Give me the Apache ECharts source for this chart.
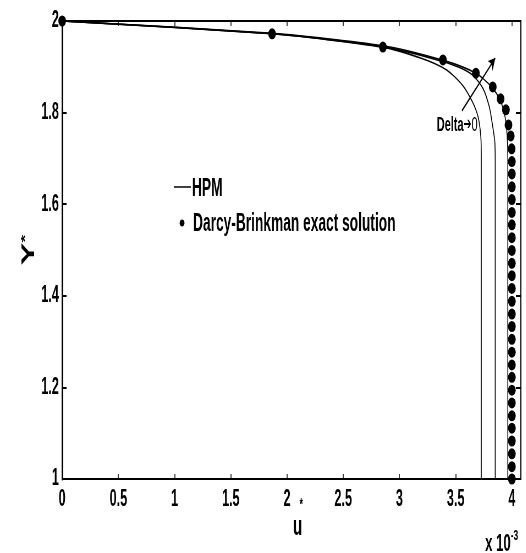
<!DOCTYPE html>
<html>
<head>
<meta charset="utf-8">
<script src="https://cdn.jsdelivr.net/npm/echarts@6/dist/echarts.min.js"></script>
<style>
  html, body { margin: 0; padding: 0; overflow: hidden; background: #fff; }
  /* the original picture is squeezed horizontally, so draw wide and squeeze */
  #chart { width: 956px; height: 553px; transform: scaleX(0.55); transform-origin: 0 0; }
</style>
</head>
<body>
<div id="chart"></div>
<script>
// HPM curves, one per Delta value: [u* (x10^-3), Y*]
var hpmA = [[0, 2], [1.87, 1.972], [2.85, 1.943], [3.2, 1.918], [3.42, 1.893], [3.56, 1.86],
            [3.65, 1.823], [3.70, 1.79], [3.724, 1.747], [3.728, 1.70], [3.728, 1]];
var hpmB = [[0, 2], [1.87, 1.972], [2.85, 1.944], [3.39, 1.911], [3.63, 1.886], [3.74, 1.854],
            [3.80, 1.812], [3.83, 1.769], [3.849, 1.734], [3.852, 1.68], [3.852, 1]];
var hpmC = [[0, 2], [1.87, 1.973], [2.85, 1.946], [3.39, 1.914], [3.68, 1.886], [3.82, 1.856],
            [3.90, 1.825], [3.94, 1.79], [3.958, 1.75], [3.964, 1.70], [3.964, 1]];

// Darcy-Brinkman exact solution (markers)
var exactU = [0, 1.867, 2.853, 3.387, 3.68, 3.83, 3.90, 3.947, 3.97, 3.99,
              3.998, 4, 4, 4, 4, 4, 4, 4, 4, 4, 4, 4, 4, 4, 4, 4, 4, 4, 4, 4, 4, 4, 4, 4, 4, 4, 4];
var exactY = [2, 1.972, 1.943, 1.915, 1.886, 1.856, 1.83, 1.806, 1.773, 1.749,
              1.721, 1.693, 1.666, 1.638, 1.610, 1.582, 1.555, 1.527, 1.499, 1.471, 1.444,
              1.416, 1.388, 1.360, 1.333, 1.305, 1.277, 1.249, 1.222, 1.194, 1.166, 1.138,
              1.111, 1.083, 1.055, 1.027, 1.000];

// arrow "Delta -> 0"
var arrowFrom = [3.556, 1.804];
var arrowTo = [3.852, 1.919];

var exact = exactU.map(function (u, i) { return [u, exactY[i]]; });

var FONT = '"Liberation Sans", Arial, sans-serif';

var chart = echarts.init(document.getElementById('chart'));

function curve(data) {
    return {
        type: 'line',
        data: data,
        showSymbol: false,
        smooth: 0.25,
        lineStyle: { color: '#000', width: 1.6 },
        z: 3
    };
}

var lbl = { color: '#000', fontFamily: FONT, fontWeight: 'bold', fontSize: 23 };

chart.setOption({
    animation: false,
    grid: { left: 113, right: 9, top: 21, bottom: 74, outerBoundsMode: 'none', containLabel: false },
    xAxis: [{
        type: 'value', min: 0, max: 4.08, interval: 0.5, position: 'bottom',
        axisLine: { onZero: false, lineStyle: { color: '#000', width: 2 } },
        axisTick: { inside: true, length: 5, lineStyle: { color: '#000', width: 1.5 } },
        axisLabel: Object.assign({ margin: 9, showMaxLabel: false }, lbl),
        splitLine: { show: false },
        name: '{s|*}\n{u|u}',
        nameLocation: 'middle',
        nameGap: 25,
        nameMoveOverlap: false,
        nameTextStyle: {
            rich: {
                s: { fontFamily: FONT, fontWeight: 'bold', fontSize: 16, color: '#000', padding: [0, 0, 8, 35], lineHeight: 12 },
                u: { fontFamily: FONT, fontWeight: 'bold', fontSize: 28, color: '#000', lineHeight: 22, padding: [0, 0, 0, 22] }
            }
        }
    }, {
        type: 'value', min: 0, max: 4.08, interval: 0.5, position: 'top',
        axisLine: { onZero: false, lineStyle: { color: '#000', width: 2 } },
        axisTick: { inside: true, length: 5, lineStyle: { color: '#000', width: 1.5 } },
        axisLabel: { show: false },
        splitLine: { show: false }
    }],
    yAxis: [{
        type: 'value', min: 1, max: 2, interval: 0.2, position: 'left',
        axisLine: { onZero: false, lineStyle: { color: '#000', width: 3 } },
        axisTick: { inside: true, length: 8, lineStyle: { color: '#000', width: 2 } },
        axisLabel: Object.assign({ margin: 6 }, lbl),
        splitLine: { show: false },
        name: '{y|Y}{s|*}',
        nameLocation: 'middle',
        nameRotate: 90,
        nameGap: 43,
        nameMoveOverlap: false,
        nameTextStyle: {
            rich: {
                y: { fontFamily: FONT, fontWeight: 'bold', fontSize: 34, color: '#000' },
                s: { fontFamily: FONT, fontWeight: 'bold', fontSize: 20, color: '#000', verticalAlign: 'top' }
            }
        }
    }, {
        type: 'value', min: 1, max: 2, interval: 0.2, position: 'right',
        axisLine: { onZero: false, lineStyle: { color: '#000', width: 2 } },
        axisTick: { inside: true, length: 9, lineStyle: { color: '#000', width: 2 } },
        axisLabel: { show: false },
        splitLine: { show: false }
    }],
    series: [
        curve(hpmA),
        curve(hpmB),
        Object.assign(curve(hpmC), {
            markLine: {
                silent: true,
                symbol: ['none', 'arrow'],
                symbolSize: [10, 12],
                label: { show: false },
                lineStyle: { color: '#000', width: 1.8, type: 'solid' },
                data: [[{ coord: arrowFrom }, { coord: arrowTo }]]
            }
        }),
        {
            type: 'scatter',
            data: exact,
            symbol: 'circle',
            symbolSize: [14, 11],
            itemStyle: { color: '#000', opacity: 1 },
            z: 4
        }
    ],
    graphic: [
        { type: 'line', shape: { x1: 316, y1: 187, x2: 347, y2: 187 }, style: { stroke: '#000', lineWidth: 1.5 } },
        { type: 'text', x: 349, y: 189, style: { text: 'HPM', font: 'bold 25px ' + FONT, fill: '#000', verticalAlign: 'middle' } },
        { type: 'ellipse', shape: { cx: 331, cy: 223, rx: 4.5, ry: 3.5 }, style: { fill: '#000' } },
        { type: 'text', x: 351, y: 224, style: { text: 'Darcy-Brinkman exact solution', font: 'bold 25px ' + FONT, fill: '#000', verticalAlign: 'middle' } },
        {
            type: 'text', x: 794, y: 125, z: 10,
            style: {
                text: '{a|Delta}{b|➔}{c|0}', verticalAlign: 'middle',
                rich: {
                    a: { fontFamily: FONT, fontWeight: 'bold', fontSize: 20, fill: '#000' },
                    b: { fontFamily: '"DejaVu Sans"', fontWeight: 'bold', fontSize: 17, fill: '#000' },
                    c: { fontFamily: FONT, fontSize: 20, fill: '#000' }
                }
            }
        },
        {
            type: 'text', x: 882, y: 528,
            style: {
                text: '{a|x 10}{b|-3}',
                rich: {
                    a: { fontFamily: FONT, fontWeight: 'bold', fontSize: 24, fill: '#000', lineHeight: 28, verticalAlign: 'bottom' },
                    b: { fontFamily: FONT, fontWeight: 'bold', fontSize: 15, fill: '#000', verticalAlign: 'top' }
                }
            }
        }
    ]
});
</script>
</body>
</html>
